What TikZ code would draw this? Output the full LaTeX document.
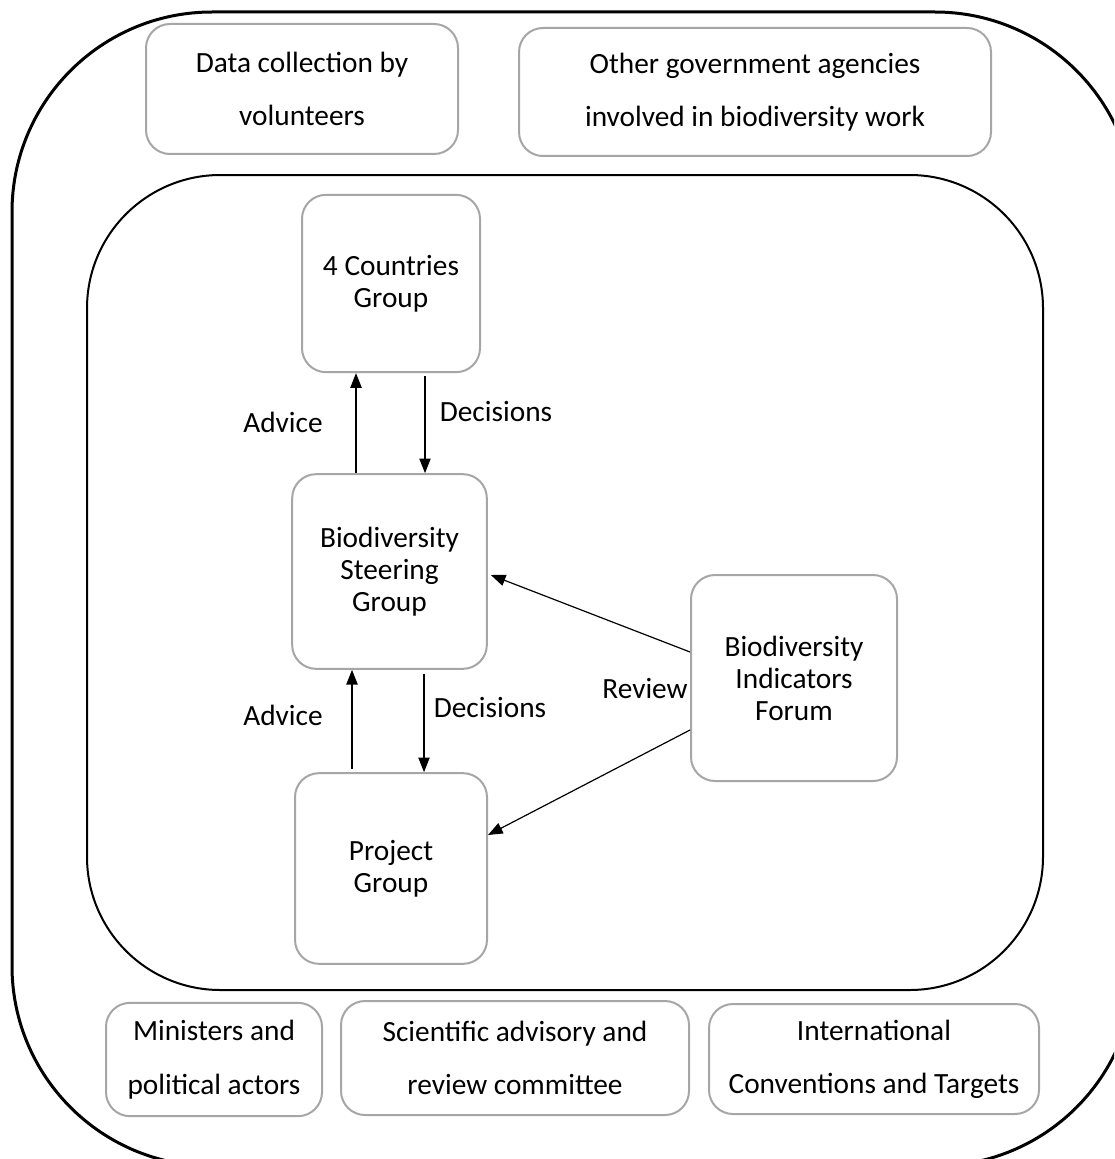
\documentclass[tikz,border=0pt]{standalone}
\usepackage{fontspec}
\setmainfont{Carlito}
\usepackage{tikz}
\usetikzlibrary{arrows.meta,calc}

\definecolor{boxgray}{RGB}{166,166,166}

\tikzset{
  grpbox/.style={draw=boxgray, line width=1.5pt, rounded corners=18pt, align=center,
    inner sep=0pt, font=\fontsize{22}{24}\selectfont},
  widebox/.style={grpbox, font=\fontsize{22}{40}\selectfont},
  arr/.style={-{Triangle[length=11pt,width=8.5pt]}, line width=0.9pt},
  lbl/.style={inner sep=0pt, font=\fontsize{22}{24}\selectfont}
}

\begin{document}
\begin{tikzpicture}[x=0.75pt,y=0.75pt,yscale=-1,xscale=1]
\useasboundingbox (0,0) rectangle (1114,1159);
\clip (0,0) rectangle (1114,1159);

%Outer frame
\draw [line width=2.25pt, rounded corners=150pt] (12,12) rectangle (1135,1166);
%Inner frame
\draw [line width=1.5pt, rounded corners=100pt] (87,175) rectangle (1043,990);

% Top row
\node (data) [widebox, minimum width=234pt, minimum height=97.5pt] at (302,89) {Data collection by\\volunteers};
\node (other) [widebox, minimum width=354pt, minimum height=96pt] at (755,92) {Other government agencies\\involved in biodiversity work};

% Groups
\node (cty) [grpbox, minimum width=133.5pt, minimum height=133pt] at (391,283.5) {4 Countries\\Group};
\node (bsg) [grpbox, minimum width=146pt, minimum height=146pt] at (389.5,571.5) {Biodiversity\\Steering\\Group};
\node (prj) [grpbox, minimum width=144pt, minimum height=143pt] at (391,868.5) {Project\\Group};
\node (bif) [grpbox, minimum width=154.5pt, minimum height=154.5pt] at (794,678) {Biodiversity\\Indicators\\Forum};

% Bottom row
\node (min) [widebox, minimum width=162pt, minimum height=85pt] at (214,1059.5) {Ministers and\\political actors};
\node (sci) [widebox, minimum width=261pt, minimum height=85.5pt] at (515,1058) {Scientific advisory and\\review committee};
\node (int) [widebox, minimum width=247.5pt, minimum height=82.5pt] at (874,1059) {International\\Conventions and Targets};

% Connectors
\draw [arr] ($(bsg.north)+(-33.5,0)$) -- ($(cty.south)+(-35,0)$);
\draw [arr] ($(cty.south)+(34,3)$) -- ($(bsg.north)+(35.5,0)$);
\draw [arr] ($(prj.north)+(-39,-3)$) -- ($(bsg.south)+(-37.5,0)$);
\draw [arr] ($(bsg.south)+(34.5,4)$) -- ($(prj.north)+(33,0)$);
\draw [arr] ($(bif.west)+(0,-26)$) -- ($(bsg.east)+(3,3.5)$);
\draw [arr] ($(bif.west)+(0,52)$) -- ($(prj.east)+(0,-33.5)$);

% Labels
\node (adv1) [lbl] at (283,422) {Advice};
\node (dec1) [lbl] at (496,412) {Decisions};
\node (adv2) [lbl] at (283,715) {Advice};
\node (dec2) [lbl] at (490,708) {Decisions};
\node (rev) [lbl] at (645,689) {Review};

\end{tikzpicture}
\end{document}
